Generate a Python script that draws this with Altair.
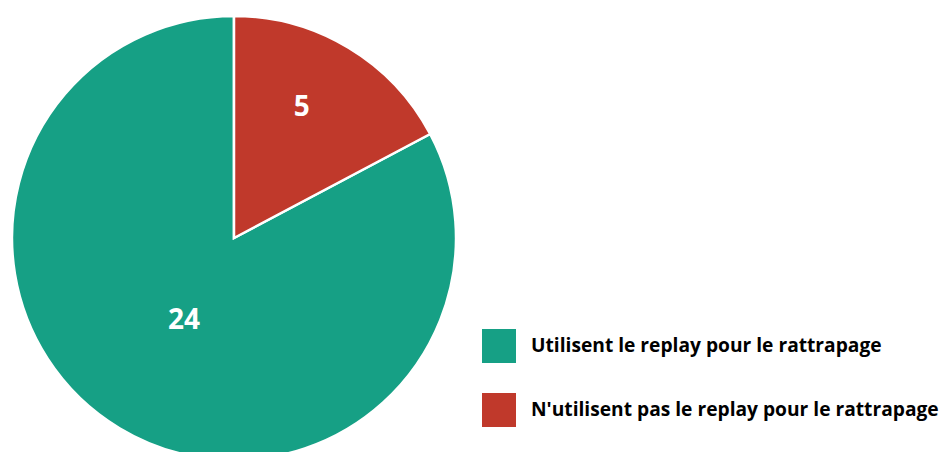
import altair as alt
import pandas as pd

categories = ["Utilisent le replay pour le rattrapage", "N'utilisent pas le replay pour le rattrapage"]
values = [24, 5]
colors = ["#16A085", "#C0392B"]

df = pd.DataFrame({"cat": categories, "value": values})

CX, CY, R = 226, 230, 222

base = alt.Chart(df).encode(
    theta=alt.Theta("value:Q", stack=True),
    order=alt.Order("cat:N", sort="ascending"),
    x=alt.value(CX),
    y=alt.value(CY),
)

arc = base.mark_arc(stroke="white", strokeWidth=2.5).encode(
    radius=alt.value(R),
    color=alt.Color(
        "cat:N",
        scale=alt.Scale(domain=categories, range=colors),
        legend=alt.Legend(
            title=None,
            orient="none",
            legendX=474,
            legendY=321,
            symbolType="square",
            symbolSize=1156,
            symbolStrokeWidth=0,
            symbolOpacity=1,
            labelFont="Open Sans",
            labelFontSize=19.2,
            labelFontWeight="bold",
            labelColor="#000000",
            labelLimit=600,
            labelOffset=15,
            rowPadding=30,
            padding=0,
        ),
    ),
)

txt_small = base.mark_text(
    font="Open Sans", fontSize=28, fontWeight="bold", color="white",
    align="center", baseline="middle", dx=-8, dy=-4,
).encode(
    radius=alt.value(147),
    text=alt.condition(alt.datum.value < 10, "value:Q", alt.value("")),
)

txt_big = base.mark_text(
    font="Open Sans", fontSize=28, fontWeight="bold", color="white",
    align="center", baseline="middle",
).encode(
    radius=alt.value(97),
    text=alt.condition(alt.datum.value >= 10, "value:Q", alt.value("")),
)

chart = alt.layer(arc, txt_small, txt_big).properties(
    width=933, height=444, padding=0, autosize=alt.AutoSizeParams(type="none"),
    background="white",
).configure_view(stroke=None)

chart.save("out.html", embed_options={"renderer": "svg", "actions": False})
